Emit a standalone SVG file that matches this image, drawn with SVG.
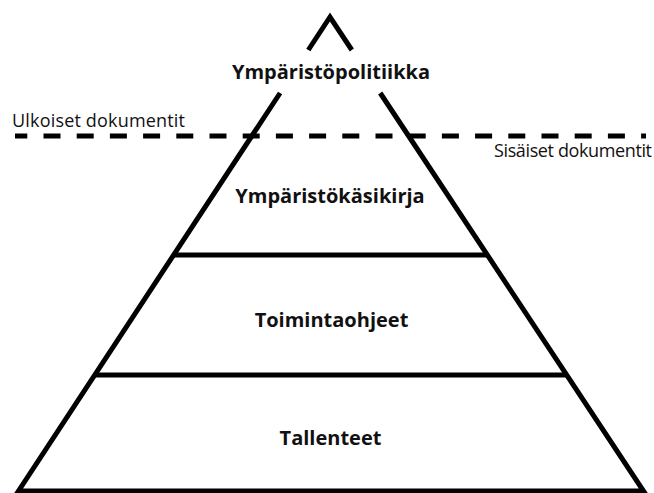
<svg xmlns="http://www.w3.org/2000/svg" width="654" height="493" viewBox="0 0 654 493">
  <style>
    .edge { fill: none; stroke: #000; stroke-width: 5; stroke-linejoin: miter; stroke-linecap: butt; }
    .tier { fill: #111; font-family: "Open Sans", "Noto Sans", "Liberation Sans", sans-serif; font-weight: bold; font-size: 20px; text-anchor: middle; }
    .note { fill: #111; font-family: "Open Sans", "Noto Sans", "Liberation Sans", sans-serif; font-size: 18px; }
    .divider { stroke: #000; stroke-width: 5; stroke-dasharray: 17 16.2; }
  </style>
  <rect width="654" height="493" fill="#fff"/>
  <g id="pyramid">
    <path class="edge" d="M308.3,50 L330,17 L351.8,50"/>
    <path class="edge" d="M280.1,93 L18.5,491 L643.5,491 L380.2,93"/>
    <line class="edge" x1="173.6" y1="255" x2="487.3" y2="255"/>
    <line class="edge" x1="94.8" y1="375" x2="566.6" y2="375"/>
  </g>
  <g id="connectors">
    <line class="divider" x1="15" y1="136" x2="646" y2="136" stroke-dashoffset="4.7"/>
  </g>
  <g id="node-politiikka">
    <text class="tier" x="331" y="79">Ympäristöpolitiikka</text>
  </g>
  <g id="node-kasikirja">
    <text class="tier" x="330" y="203">Ympäristökäsikirja</text>
  </g>
  <g id="node-toimintaohjeet">
    <text class="tier" x="331.5" y="327">Toimintaohjeet</text>
  </g>
  <g id="node-tallenteet">
    <text class="tier" x="330.5" y="445">Tallenteet</text>
  </g>
  <g id="label-ulkoiset">
    <text class="note" x="12" y="127" textLength="173">Ulkoiset dokumentit</text>
  </g>
  <g id="label-sisaiset">
    <text class="note" x="494" y="157" textLength="158">Sisäiset dokumentit</text>
  </g>
</svg>
